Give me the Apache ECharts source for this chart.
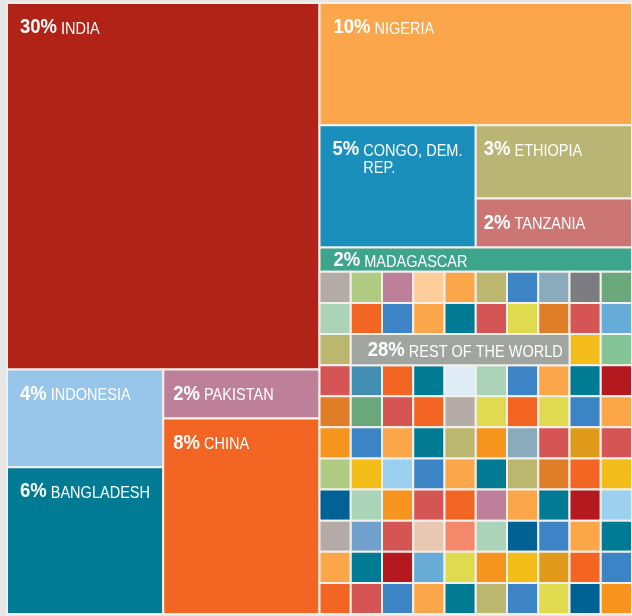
<!DOCTYPE html>
<html>
<head>
<meta charset="utf-8">
<script src="https://cdn.jsdelivr.net/npm/echarts@6/dist/echarts.min.js"></script>
<style>
html,body{margin:0;padding:0;background:#e6e6e6;}
#chart{width:632px;height:616px;}
</style>
</head>
<body>
<div id="chart"></div>
<script>
// ---------- DATA ----------
const countries = ['INDIA','NIGERIA','CONGO, DEM. REP.','ETHIOPIA','TANZANIA','MADAGASCAR','INDONESIA','PAKISTAN','BANGLADESH','CHINA','REST OF THE WORLD'];
const shares    = [30, 10, 5, 3, 2, 2, 4, 2, 6, 8, 28];

// how the blocks are nested: 'h' = side by side, 'v' = stacked
const partition = ['h',
  ['v', 'INDIA', ['h', ['v', 'INDONESIA', 'BANGLADESH'], ['v', 'PAKISTAN', 'CHINA']]],
  ['v', 'NIGERIA', ['h', 'CONGO, DEM. REP.', ['v', 'ETHIOPIA', 'TANZANIA']], 'MADAGASCAR', 'REST OF THE WORLD']
];

// ---------- STYLES ----------
const countryColors = ['#b22317','#fba64a','#1b8fbc','#bab574','#cc7674','#3ea58d','#98c5ea','#be8099','#007b93','#f26522','#a0a59f'];
const labelPad      = [13, 14, 13, 8, 8, 14, 13, 10, 13, 10, 17];

// mosaic of the "rest of the world" block (rows of tile colour codes, '--' = covered by the label tile)
const tilePalette = {tp:'#b4aaa6', lg:'#afcb82', mv:'#be7f9a', pc:'#fdcd9a', lo:'#fca64a', kh:'#bbb76e', bl:'#3d84c6',
  gb:'#8aabbc', gy:'#7a7c7f', gn:'#6aa77a', mt:'#abd3b7', or:'#f26522', tl:'#007b93', rd:'#d55554', yl:'#dfda4e',
  dk:'#e07e27', lb:'#67abd7', gd:'#f2bd19', mg:'#85c497', sb:'#438fb3', vl:'#deedf5', dr:'#b3191e', og:'#f7941e',
  gl:'#e09a19', ls:'#9bd0ee', db:'#006195', mb:'#72a0cc', lp:'#e8c8b1', sm:'#f3886a'};
const restTiles = [
  'tp lg mv pc lo kh bl gb gy gn',
  'mt or bl lo tl rd yl dk rd lb',
  'kh -- -- -- -- -- -- -- gd mg',
  'rd sb or tl vl mt bl lo tl dr',
  'dk gn rd or tp yl or yl bl lo',
  'og bl lo tl kh og gb rd gl rd',
  'lg gd ls bl lo tl kh dk or gd',
  'db mt og rd or mv lo tl dr ls',
  'tp mb rd lp sm mt db bl lo tl',
  'lo tl dr lb yl og gd gl or bl',
  'or rd bl lo tl kh bl yl db og'
];
const restLabelRow = 2, restLabelCol = 1, restLabelSpan = 7;

const FONT = "'Liberation Sans',Arial,sans-serif";
const PCT_SIZE = 21, NAME_SIZE = 16.5, LINE_H = 17, TEXT_SCALE = 0.88;
const STROKE = '#f3f0eb';

// ---------- LAYOUT (from values) ----------
const shareOf = {};
countries.forEach((c, i) => shareOf[c] = shares[i]);
function total(node) {
  return typeof node === 'string' ? shareOf[node] : node.slice(1).reduce((s, k) => s + total(k), 0);
}
const boxes = {};
function place(node, x0, x1, y0, y1) {
  if (typeof node === 'string') { boxes[node] = [x0, x1, y0, y1]; return; }
  const dir = node[0], kids = node.slice(1), T = total(node);
  let acc = 0;
  kids.forEach(k => {
    const f0 = acc / T; acc += total(k); const f1 = acc / T;
    if (dir === 'h') place(k, x0 + (x1 - x0) * f0, x0 + (x1 - x0) * f1, y0, y1);
    else place(k, x0, x1, y0 + (y1 - y0) * f0, y0 + (y1 - y0) * f1);
  });
}
place(partition, 0, 100, 0, 100);

const REST = 'REST OF THE WORLD';
const countryIdx = countries.map((c, i) => i).filter(i => countries[i] !== REST);
const countryData = countryIdx.map(i => boxes[countries[i]].concat([i]));

const rb = boxes[REST];
const nRows = restTiles.length, nCols = restTiles[0].split(' ').length;
const cw = (rb[1] - rb[0]) / nCols, rh = (rb[3] - rb[2]) / nRows;
const tileData = [];
restTiles.forEach((row, r) => {
  row.split(' ').forEach((code, c) => {
    if (code === '--') return;
    tileData.push([rb[0] + c * cw, rb[0] + (c + 1) * cw, rb[2] + r * rh, rb[2] + (r + 1) * rh, -1, code]);
  });
});
tileData.push([rb[0] + restLabelCol * cw, rb[0] + (restLabelCol + restLabelSpan) * cw,
               rb[2] + restLabelRow * rh, rb[2] + (restLabelRow + 1) * rh, countries.indexOf(REST), '']);

// ---------- LABELS ----------
const mctx = document.createElement('canvas').getContext('2d');
function measure(font, t) { mctx.font = font; return mctx.measureText(t).width * TEXT_SCALE; }
function wrapWords(text, avail) {
  const words = text.split(' '); const lines = []; let cur = '';
  const f = NAME_SIZE + 'px ' + FONT;
  words.forEach(w => {
    const tryL = cur ? cur + ' ' + w : w;
    if (cur && measure(f, tryL) > avail) { lines.push(cur); cur = w; } else cur = tryL;
  });
  if (cur) lines.push(cur);
  return lines;
}
function makeLabel(i, x, y, w, h) {
  const pct = shares[i] + '%';
  const pw = measure('bold ' + PCT_SIZE + 'px ' + FONT, pct);
  const sw = measure(NAME_SIZE + 'px ' + FONT, ' ');
  const pad = labelPad[i];
  const lines = wrapWords(countries[i], w - pad - pw - sw - 2);
  let text = '{p|' + pct + '}{n| ' + lines[0] + '}';
  for (let k = 1; k < lines.length; k++) text += '\n{i| }{n|' + lines[k] + '}';
  const baseline = y + Math.min(31.3, h / 2 + 8);
  return {
    type: 'text', x: x + pad, y: baseline - 13.5, scaleX: TEXT_SCALE, silent: true,
    style: {
      text: text, fill: '#fff', verticalAlign: 'top', align: 'left',
      rich: {
        p: {fontFamily: FONT, fontWeight: 'bold', fontSize: PCT_SIZE, lineHeight: LINE_H, verticalAlign: 'bottom', fill: '#fff'},
        n: {fontFamily: FONT, fontSize: NAME_SIZE, lineHeight: LINE_H, verticalAlign: 'bottom', fill: '#fff'},
        i: {fontFamily: FONT, fontSize: NAME_SIZE, lineHeight: LINE_H, width: (pw + sw) / TEXT_SCALE}
      }
    }
  };
}
function cellItem(api, fill, idx) {
  const p0 = api.coord([api.value(0), api.value(2)]);
  const p1 = api.coord([api.value(1), api.value(3)]);
  const x = p0[0], y = p0[1], w = p1[0] - p0[0], h = p1[1] - p0[1];
  const children = [{type: 'rect', shape: {x: x, y: y, width: w, height: h},
    style: {fill: fill, stroke: STROKE, lineWidth: 2}}];
  if (idx >= 0) children.push(makeLabel(idx, x, y, w, h));
  return {type: 'group', children: children};
}

const chart = echarts.init(document.getElementById('chart'), null, {renderer: 'canvas'});
chart.setOption({
  backgroundColor: '#e6e6e6',
  animation: false,
  grid: {left: 7, top: 3, right: 0, bottom: 2},
  xAxis: {type: 'value', min: 0, max: 100, show: false},
  yAxis: {type: 'value', min: 0, max: 100, inverse: true, show: false},
  series: [
    {
      type: 'custom', name: 'countries', data: countryData,
      encode: {x: [0, 1], y: [2, 3]},
      renderItem: function (params, api) {
        const i = countryData[params.dataIndex][4];
        return cellItem(api, countryColors[i], i);
      }
    },
    {
      type: 'custom', name: 'rest', data: tileData,
      encode: {x: [0, 1], y: [2, 3]},
      renderItem: function (params, api) {
        const d = tileData[params.dataIndex];
        const fill = d[4] >= 0 ? countryColors[d[4]] : tilePalette[d[5]];
        return cellItem(api, fill, d[4]);
      }
    }
  ]
});
</script>
</body>
</html>
